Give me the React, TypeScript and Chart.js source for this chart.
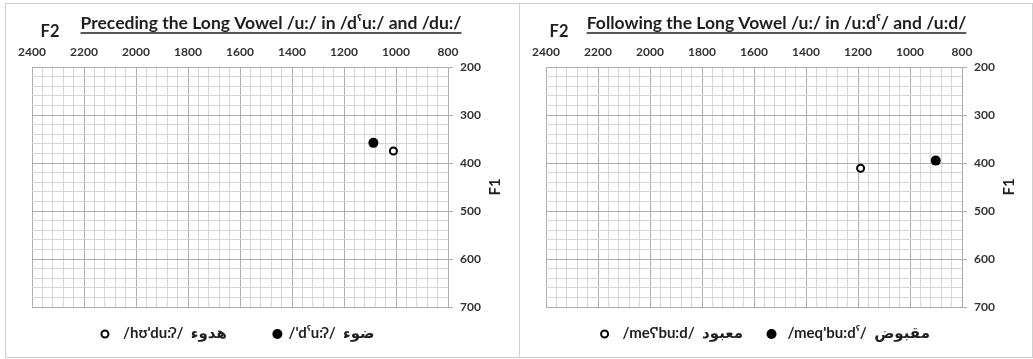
import React, { useEffect, useRef } from 'react';
import { Chart, registerables } from 'chart.js';

Chart.register(...registerables);

// ---- axis configuration (Hz) ----
const F2_MIN = 800;
const F2_MAX = 2400;
const F2_STEP = 40;
const F2_MAJOR = 200;
const F1_MIN = 200;
const F1_MAX = 700;
const F1_STEP = 20;
const F1_MAJOR = 100;
const X_AXIS_TITLE = 'F2';
const Y_AXIS_TITLE = 'F1';

// ---- left panel data ----
const leftTitle = 'Preceding the Long Vowel /u:/ in /dˤu:/ and /du:/';
const leftLabels = ["/hʊ'du:ʔ/  هدوء", "/'dˤu:ʔ/  ضوء"];
const leftF2 = [1010, 1087];
const leftF1 = [375, 358];

// ---- right panel data ----
const rightTitle = 'Following the Long Vowel /u:/ in /u:dˤ/ and /u:d/';
const rightLabels = ["/meʕ'bu:d/  معبود", "/meq'bu:dˤ/  مقبوض"];
const rightF2 = [1190, 901];
const rightF1 = [411, 395];

const FONT = "Lato, 'Noto Sans', 'DejaVu Sans', sans-serif";
const MAJOR_GRID = '#adadad';
const MINOR_GRID = '#d6d6d6';
const TEXT = '#1f1f1f';
const TICK_TEXT = '#333333';

const CW = 512;
const CH = 352;

type PanelProps = {
  title: string;
  labels: string[];
  f2: number[];
  f1: number[];
  titleCx: number;
  f2Cx: number;
  legendCx: number;
  markerGaps: number[];
  itemGap: number;
};

const isMult = (v: number, m: number) => Math.abs(Math.round(v) % m) === 0;

function Panel(props: PanelProps) {
  const ref = useRef<HTMLCanvasElement | null>(null);
  useEffect(() => {
    const canvas = ref.current;
    if (!canvas) return;
    const { title, labels, f2, f1, titleCx, f2Cx, legendCx, markerGaps, itemGap } = props;

    const decor = {
      id: 'decor',
      afterDraw(chart: any) {
        const ctx = chart.ctx as CanvasRenderingContext2D;
        const area = chart.chartArea;
        ctx.save();
        // title with underline
        ctx.fillStyle = TEXT;
        ctx.strokeStyle = TEXT;
        ctx.font = `bold 17.5px ${FONT}`;
        ctx.textAlign = 'center';
        ctx.textBaseline = 'alphabetic';
        const tw = ctx.measureText(title).width;
        ctx.fillText(title, titleCx, 25);
        ctx.lineWidth = 1.3;
        ctx.beginPath();
        ctx.moveTo(titleCx - tw / 2, 29);
        ctx.lineTo(titleCx + tw / 2, 29);
        ctx.stroke();
        // F2 axis title
        ctx.font = `bold 16.5px ${FONT}`;
        ctx.fillText(X_AXIS_TITLE, f2Cx, 33);
        // F1 axis title (rotated, reads bottom to top)
        ctx.save();
        ctx.translate(489, (area.top + area.bottom) / 2);
        ctx.rotate(-Math.PI / 2);
        ctx.font = `bold 15px ${FONT}`;
        ctx.textBaseline = 'middle';
        ctx.fillText(Y_AXIS_TITLE, 0, 0);
        ctx.restore();
        // legend
        ctx.font = `bold 15px ${FONT}`;
        ctx.textAlign = 'left';
        ctx.textBaseline = 'middle';
        const ds = chart.data.datasets;
        const widths = ds.map((d: any, i: number) => 4.5 + markerGaps[i] + ctx.measureText(d.label).width);
        const total = widths.reduce((a: number, b: number) => a + b, 0) + itemGap * (ds.length - 1);
        let x = legendCx - total / 2;
        const ly = 329;
        ds.forEach((d: any, i: number) => {
          const mx = x + 4.5;
          ctx.beginPath();
          const r = d.pointRadius;
          ctx.arc(mx, ly + 1, r, 0, Math.PI * 2);
          ctx.fillStyle = d.pointBackgroundColor;
          ctx.fill();
          if (d.pointBorderWidth > 0) {
            ctx.lineWidth = d.pointBorderWidth;
            ctx.strokeStyle = d.pointBorderColor;
            ctx.stroke();
          }
          ctx.fillStyle = TEXT;
          ctx.fillText(d.label, mx + markerGaps[i], ly);
          x += widths[i] + itemGap;
        });
        ctx.restore();
      },
    };

    const chart = new Chart(canvas, {
      type: 'scatter',
      data: {
        datasets: [
          {
            label: labels[0],
            data: [{ x: f2[0], y: f1[0] }],
            pointRadius: 3.5,
            pointBackgroundColor: '#ffffff',
            pointBorderColor: '#000000',
            pointBorderWidth: 2,
          },
          {
            label: labels[1],
            data: [{ x: f2[1], y: f1[1] }],
            pointRadius: 5,
            pointBackgroundColor: '#000000',
            pointBorderColor: '#000000',
            pointBorderWidth: 0,
          },
        ],
      },
      options: {
        responsive: false,
        animation: false,
        devicePixelRatio: 1,
        layout: { padding: { top: 38, right: 30, bottom: 49, left: 26 } },
        plugins: {
          legend: { display: false },
          title: { display: false },
          tooltip: { enabled: false },
        },
        scales: {
          x: {
            type: 'linear',
            position: 'top',
            reverse: true,
            min: F2_MIN,
            max: F2_MAX,
            afterFit: (s: any) => {
              s.height = 25;
            },
            ticks: {
              stepSize: F2_STEP,
              maxTicksLimit: 200,
              autoSkip: false,
              maxRotation: 0,
              padding: 8,
              color: TICK_TEXT,
              font: { family: FONT, size: 12, weight: 'bold' },
              callback: (v: any) => (isMult(Number(v), F2_MAJOR) ? String(v) : ''),
            },
            grid: {
              drawTicks: false,
              color: (c: any) => (c.tick && isMult(c.tick.value, F2_MAJOR) ? MAJOR_GRID : MINOR_GRID),
              lineWidth: 1,
            },
            border: { display: true, color: MAJOR_GRID },
          },
          y: {
            type: 'linear',
            position: 'right',
            reverse: true,
            min: F1_MIN,
            max: F1_MAX,
            afterFit: (s: any) => {
              s.width = 40;
            },
            ticks: {
              stepSize: F1_STEP,
              maxTicksLimit: 200,
              autoSkip: false,
              padding: 7,
              color: TICK_TEXT,
              font: { family: FONT, size: 12, weight: 'bold' },
              callback: (v: any) => (isMult(Number(v), F1_MAJOR) ? String(v) : ''),
            },
            grid: {
              drawTicks: true,
              tickLength: 5,
              tickColor: (c: any) => (c.tick && isMult(c.tick.value, F1_MAJOR) ? MAJOR_GRID : 'rgba(0,0,0,0)'),
              color: (c: any) => (c.tick && isMult(c.tick.value, F1_MAJOR) ? MAJOR_GRID : MINOR_GRID),
              lineWidth: 1,
            },
            border: { display: true, color: MAJOR_GRID },
          },
        },
      },
      plugins: [decor],
    } as any);
    return () => chart.destroy();
  }, []);
  return <canvas ref={ref} width={CW} height={CH} style={{ width: CW, height: CH, display: 'block' }} />;
}

export default function App() {
  const border = '1px solid #cfcfcf';
  return (
    <div style={{ position: 'absolute', left: 0, top: 0, width: 1033, height: 359, background: '#fff' }}>
      <div
        style={{
          position: 'absolute',
          left: 5,
          top: 3,
          width: 1026,
          height: 353,
          border,
        }}
      />
      <div style={{ position: 'absolute', left: 519, top: 3, width: 0, height: 354, borderLeft: border }} />
      <div style={{ position: 'absolute', left: 6, top: 4 }}>
        <Panel
          title={leftTitle}
          labels={leftLabels}
          f2={leftF2}
          f1={leftF1}
          titleCx={265}
          f2Cx={44}
          legendCx={231.5}
          markerGaps={[18, 11]}
          itemGap={46}
        />
      </div>
      <div style={{ position: 'absolute', left: 520, top: 4 }}>
        <Panel
          title={rightTitle}
          labels={rightLabels}
          f2={rightF2}
          f1={rightF1}
          titleCx={256.5}
          f2Cx={39}
          legendCx={245}
          markerGaps={[18, 16]}
          itemGap={24}
        />
      </div>
    </div>
  );
}
